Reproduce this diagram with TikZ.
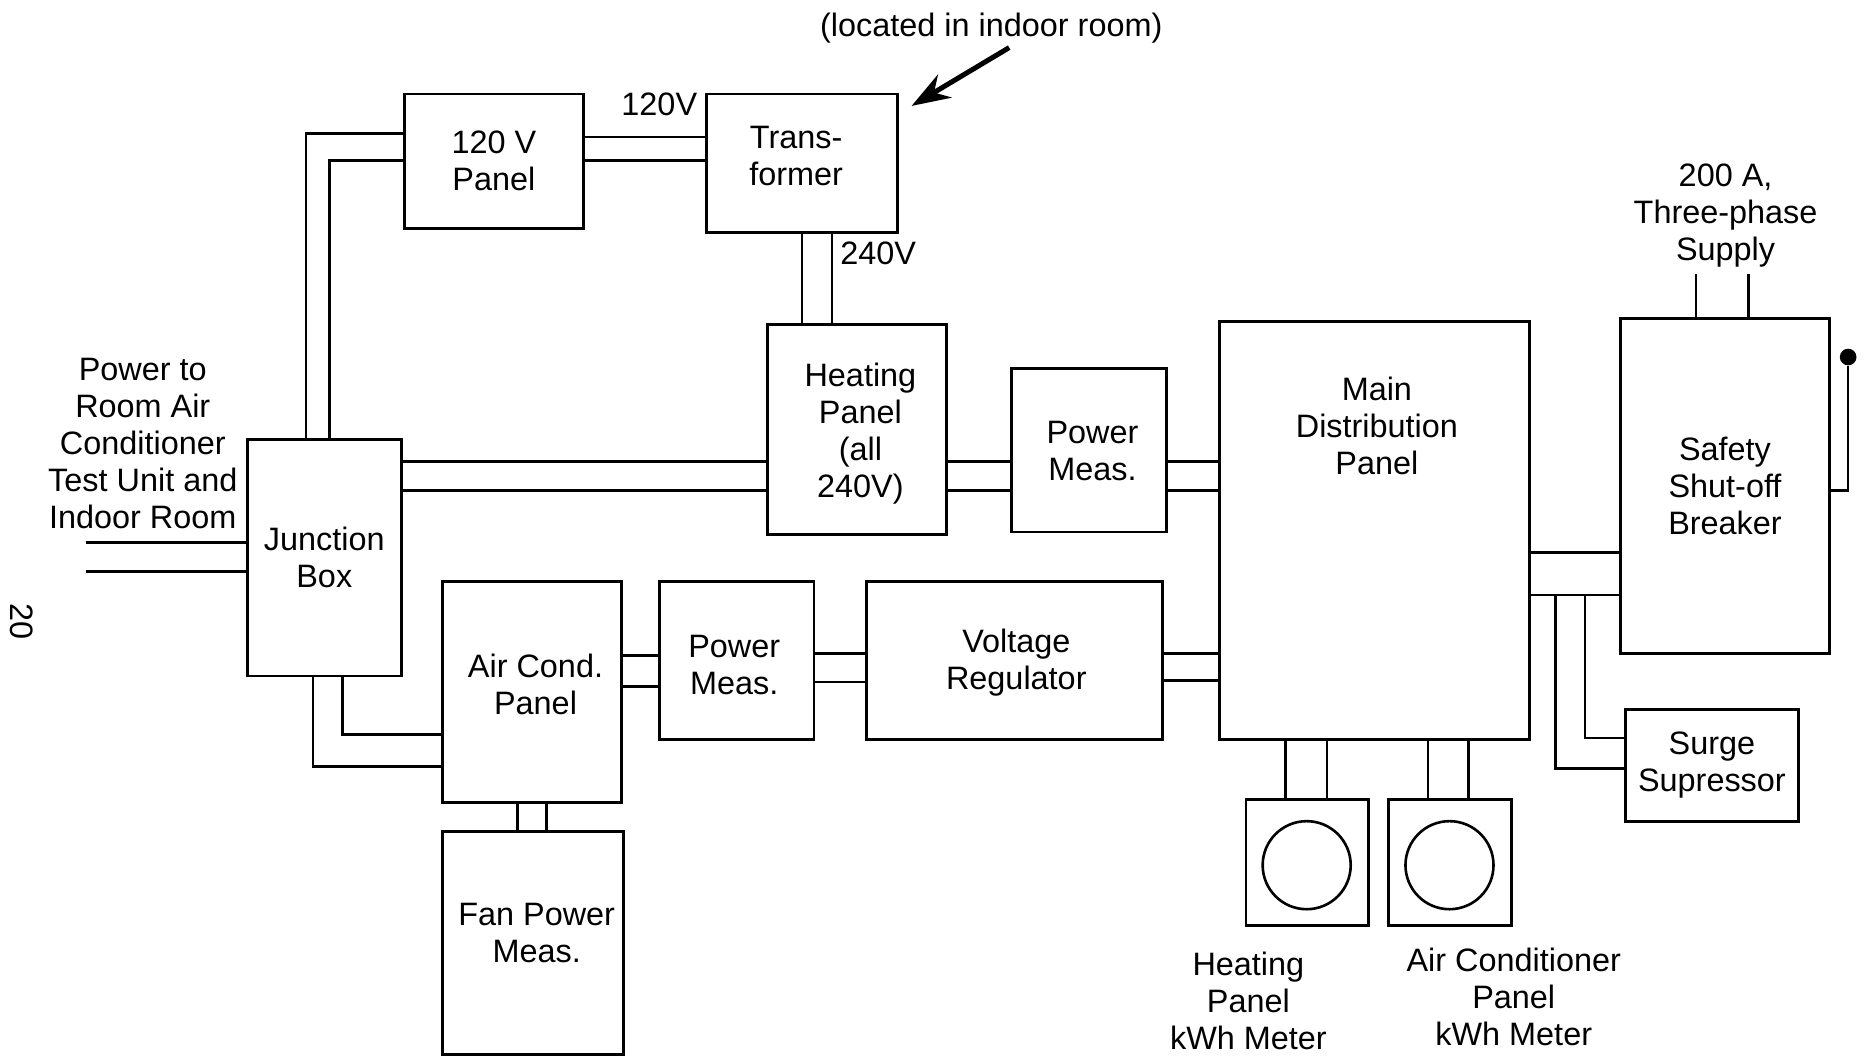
\documentclass[tikz,border=0pt]{standalone}
\usepackage{fontspec}
\setmainfont{Liberation Sans}
\usetikzlibrary{arrows.meta,positioning}

\begin{document}
\begin{tikzpicture}[
  x=0.02cm, y=-0.02cm,
  block/.style 2 args={rectangle, draw, line width=1.4pt, inner sep=0pt, align=center,
    minimum width=#1*0.02cm, minimum height=#2*0.02cm, font=\fontsize{15.5}{17.7}\selectfont},
  lbl/.style={inner sep=0pt, align=center, font=\fontsize{15.5}{17.7}\selectfont},
  wire/.style={line width=1.25pt},
  dial/.style={circle, draw, line width=1.25pt, inner sep=0pt, minimum size=1.48cm},
  knob/.style={circle, fill=black, inner sep=0pt, minimum size=0.28cm}
]
  \useasboundingbox (0,0) rectangle (1568,887);

  % boxes
  \node[block={150}{113}] (panel) at (415,135.5) {120 V\\Panel};
  \node[block={160}{116}] (xfmr) at (674,137) {};
  \node[block={150}{176}] (heat) at (720,361) {};
  \node[block={130}{137}] (measA) at (915,378.5) {};
  \node[block={260}{351}] (main) at (1155,445.5) {};
  \node[block={175}{281}] (safety) at (1449.5,408.5) {Safety\\Shut-off\\Breaker};
  \node[block={129}{199}] (junction) at (272.5,468.5) {Junction\\Box};
  \node[block={150}{185}] (acpanel) at (447,581.5) {};
  \node[block={130}{132}] (measB) at (619,555) {};
  \node[block={249}{132}] (vreg) at (852.5,555) {};
  \node[block={152}{187}] (fan) at (448,792.5) {};
  \node[block={145}{94}] (surge) at (1438.5,643) {Surge\\Supressor};
  \node[block={103}{106}] (meterA) at (1098.5,725) {};
  \node[block={103}{106}] (meterB) at (1218.5,725) {};
  \node[dial] (dialA) at (1098,727) {};
  \node[dial] (dialB) at (1218,727) {};
  \node[knob] (handle) at (1553,300) {};

  % text that sits off centre, and free text
  \node[lbl] (xfmrtxt) at (669,131.5) {Trans-\\former};
  \node[lbl] (heattxt) at (723,364) {Heating\\Panel\\(all\\240V)};
  \node[lbl] (measAtxt) at (918,379) {Power\\Meas.};
  \node[lbl] (measBtxt) at (617,559) {Power\\Meas.};
  \node[lbl] (vregtxt) at (854,557) {Voltage\\Regulator};
  \node[lbl] (maintxt) at (1157,358) {Main\\Distribution\\Panel};
  \node[lbl] (actxt) at (450,575) {Air Cond.\\Panel};
  \node[lbl] (fantxt) at (451,784) {Fan Power\\Meas.};
  \node[lbl] (room) at (120,373) {Power to\\Room Air\\Conditioner\\Test Unit and\\Indoor Room};
  \node[lbl] (located) at (833,24) {(located in indoor room)};
  \node[lbl] (supply) at (1450,181) {200 A,\\Three-phase\\Supply};
  \node[lbl] (kwhA) at (1049,841) {Heating\\Panel\\kWh Meter};
  \node[lbl] (kwhB) at (1272,838) {Air Conditioner\\Panel\\kWh Meter};
  \node[lbl] (lowv) at (554,88) {120V};
  \node[lbl] (highv) at (738,213) {240V};
  \node[lbl, rotate=-90] (pageno) at (18,522) {20};

  % free ends
  \coordinate (inA) at (72,456);
  \coordinate (inB) at (72,480);
  \coordinate (supA) at (1425,230);
  \coordinate (supB) at (1469,230);
  \coordinate (tail) at (848,40);
  \coordinate (tip) at (766,89);

  % connectors
  \draw[wire] (inA) -- (junction.west |- inA);
  \draw[wire] (inB) -- (junction.west |- inB);
  \draw[wire] (junction.north -| 257,0) |- (panel.west |- 0,112);
  \draw[wire] (junction.north -| 277,0) |- (panel.west |- 0,135);
  \draw[wire] (panel.east |- 0,115) -- (xfmr.west |- 0,115);
  \draw[wire] (panel.east |- 0,135) -- (xfmr.west |- 0,135);
  \draw[wire] (xfmr.south -| 674,0) -- (heat.north -| 674,0);
  \draw[wire] (xfmr.south -| 699,0) -- (heat.north -| 699,0);
  \draw[wire] (junction.east |- 0,388) -- (heat.west |- 0,388);
  \draw[wire] (junction.east |- 0,412) -- (heat.west |- 0,412);
  \draw[wire] (heat.east |- 0,388) -- (measA.west |- 0,388);
  \draw[wire] (heat.east |- 0,412) -- (measA.west |- 0,412);
  \draw[wire] (measA.east |- 0,388) -- (main.west |- 0,388);
  \draw[wire] (measA.east |- 0,412) -- (main.west |- 0,412);
  \draw[wire] (junction.south -| 288,0) |- (acpanel.west |- 0,617);
  \draw[wire] (junction.south -| 263,0) |- (acpanel.west |- 0,644);
  \draw[wire] (acpanel.east |- 0,551) -- (measB.west |- 0,551);
  \draw[wire] (acpanel.east |- 0,577) -- (measB.west |- 0,577);
  \draw[wire] (measB.east |- 0,549) -- (vreg.west |- 0,549);
  \draw[wire] (measB.east |- 0,573) -- (vreg.west |- 0,573);
  \draw[wire] (vreg.east |- 0,549) -- (main.west |- 0,549);
  \draw[wire] (vreg.east |- 0,572) -- (main.west |- 0,572);
  \draw[wire] (acpanel.south -| 435,0) -- (fan.north -| 435,0);
  \draw[wire] (acpanel.south -| 459,0) -- (fan.north -| 459,0);
  \draw[wire] (main.south -| 1080,0) -- (meterA.north -| 1080,0);
  \draw[wire] (main.south -| 1115,0) -- (meterA.north -| 1115,0);
  \draw[wire] (main.south -| 1200,0) -- (meterB.north -| 1200,0);
  \draw[wire] (main.south -| 1234,0) -- (meterB.north -| 1234,0);
  \draw[wire] (main.east |- 0,464) -- (safety.west |- 0,464);
  \draw[wire] (main.east |- 0,500) -- (safety.west |- 0,500);
  \draw[wire] (1307,500) |- (surge.west |- 0,646);
  \draw[wire] (1332,500) |- (surge.west |- 0,620);
  \draw[wire] (supA) -- (safety.north -| supA);
  \draw[wire] (supB) -- (safety.north -| supB);
  \draw[wire] (safety.east |- 0,412) -| (handle);
  \draw[line width=2.4pt, -{Stealth[length=0.65cm, width=0.45cm]}] (tail) -- (tip);
\end{tikzpicture}
\end{document}
